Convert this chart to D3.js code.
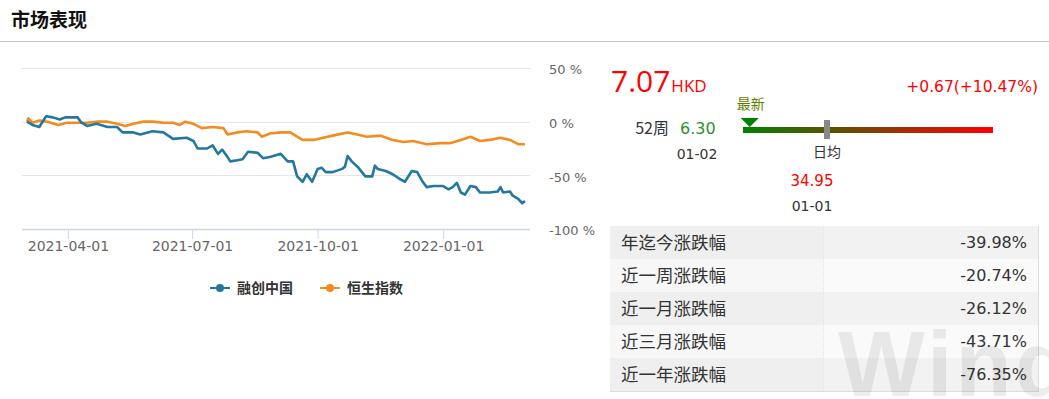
<!DOCTYPE html>
<html>
<head>
<meta charset="utf-8">
<script src="https://cdn.jsdelivr.net/npm/d3@7"></script>
<style>
  body { margin: 0; background: #fff; }
  svg { display: block; font-family: "Noto Sans CJK SC", "Noto Sans", sans-serif; }
</style>
</head>
<body>
<div id="root"></div>
<script>
const width = 1049;
const height = 399;

// 融创中国 (% change)
const sunacDates = ["2021-03-02","2021-03-06","2021-03-11","2021-03-16","2021-03-21","2021-03-26","2021-03-30","2021-04-08","2021-04-11","2021-04-15","2021-04-22","2021-04-30","2021-05-07","2021-05-11","2021-05-19","2021-05-24","2021-06-02","2021-06-10","2021-06-17","2021-06-27","2021-07-02","2021-07-05","2021-07-12","2021-07-16","2021-07-20","2021-07-23","2021-07-27","2021-07-29","2021-08-03","2021-08-07","2021-08-11","2021-08-18","2021-08-22","2021-08-27","2021-09-04","2021-09-09","2021-09-13","2021-09-16","2021-09-20","2021-09-23","2021-09-27","2021-10-01","2021-10-04","2021-10-07","2021-10-12","2021-10-19","2021-10-21","2021-10-23","2021-10-26","2021-10-31","2021-11-05","2021-11-10","2021-11-12","2021-11-14","2021-11-20","2021-11-25","2021-12-01","2021-12-04","2021-12-09","2021-12-13","2021-12-17","2021-12-20","2021-12-25","2022-01-01","2022-01-05","2022-01-08","2022-01-11","2022-01-14","2022-01-17","2022-01-21","2022-01-25","2022-01-28","2022-02-04","2022-02-10","2022-02-12","2022-02-14","2022-02-19","2022-02-21","2022-02-25","2022-02-28","2022-03-02"];
const sunacValues = [0,-3,-5,5,4,2,4,4,-1,-4,-2,-5,-5,-10,-10,-12,-9,-10,-16,-15,-18,-25,-25,-22,-30,-26,-33,-37,-36,-35,-28,-29,-34,-33,-30,-37,-37,-51,-56,-49,-56,-44,-43,-47,-47,-44,-42,-32,-37,-43,-51,-51,-41,-44,-46,-49,-54,-56,-46,-47,-56,-61,-60,-60,-63,-61,-57,-66,-68,-60,-61,-66,-66,-65,-61,-66,-65,-69,-72,-76,-74];

// 恒生指数 (% change)
const hsiDates = ["2021-03-02","2021-03-03","2021-03-06","2021-03-11","2021-03-17","2021-03-25","2021-03-31","2021-04-08","2021-04-15","2021-04-22","2021-04-30","2021-05-07","2021-05-13","2021-05-19","2021-05-26","2021-06-02","2021-06-10","2021-06-17","2021-06-22","2021-06-26","2021-07-02","2021-07-08","2021-07-16","2021-07-24","2021-07-27","2021-08-03","2021-08-10","2021-08-18","2021-08-21","2021-08-27","2021-09-04","2021-09-11","2021-09-16","2021-09-20","2021-09-28","2021-10-05","2021-10-12","2021-10-23","2021-10-30","2021-11-06","2021-11-16","2021-11-25","2021-12-03","2021-12-10","2021-12-20","2021-12-30","2022-01-06","2022-01-14","2022-01-21","2022-01-28","2022-02-04","2022-02-12","2022-02-19","2022-02-25","2022-03-02"];
const hsiValues = [0,3,-1,1,0,-3,-1,-1,-1,0,0,-2,-4,-2,0,0,-1,-1,-3,0,-2,-6,-5,-6,-12,-10,-9,-10,-14,-11,-10,-10,-14,-17,-17,-15,-13,-10,-12,-14,-13,-17,-19,-18,-21,-20,-20,-17,-14,-18,-17,-15,-17,-21,-21];

const seriesNames = ["融创中国", "恒生指数"];
const seriesColors = ["#23789f", "#f58a1f"];

const xTicks = ["2021-04-01", "2021-07-01", "2021-10-01", "2022-01-01"];
const yTicks = [50, 0, -50, -100];

// right panel
const price = "7.07";
const currency = "HKD";
const change = "+0.67(+10.47%)";
const low52 = "6.30", low52Date = "01-02";
const high52 = "34.95", high52Date = "01-01";
const statLabels = ["年迄今涨跌幅", "近一周涨跌幅", "近一月涨跌幅", "近三月涨跌幅", "近一年涨跌幅"];
const statValues = ["-39.98%", "-20.74%", "-26.12%", "-43.71%", "-76.35%"];

const parse = d3.timeParse("%Y-%m-%d");
const numFont = "'DejaVu Sans', sans-serif";

const svg = d3.select("#root").append("svg")
  .attr("width", width).attr("height", height);

// header
svg.append("text").attr("x", 11).attr("y", 27)
  .attr("font-size", 19).attr("font-weight", "bold").attr("fill", "#111")
  .text("市场表现");
svg.append("line").attr("x1", 0).attr("x2", width).attr("y1", 41.5).attr("y2", 41.5)
  .attr("stroke", "#c8c8c8");

// chart
const plotL = 22, plotR = 530;
const x = d3.scaleTime().domain([parse("2021-03-02"), parse("2022-03-02")]).range([27, 525]);
const y = d3.scaleLinear().domain([-100, 50]).range([229, 68]);

const chart = svg.append("g");

chart.selectAll(".grid").data(yTicks.filter(d => d !== -100)).enter()
  .append("line").attr("class", "grid")
  .attr("x1", plotL).attr("x2", plotR)
  .attr("y1", d => Math.round(y(d)) + 0.5).attr("y2", d => Math.round(y(d)) + 0.5)
  .attr("stroke", "#e6e6e6");

chart.append("line").attr("x1", plotL).attr("x2", plotR)
  .attr("y1", 229.5).attr("y2", 229.5).attr("stroke", "#ccd6eb").attr("stroke-width", 1.5);

const xAxis = chart.append("g").attr("transform", "translate(0,229)")
  .call(d3.axisBottom(x).tickValues(xTicks.map(parse)).tickFormat(d3.timeFormat("%Y-%m-%d")).tickSize(10));
xAxis.select(".domain").remove();
xAxis.selectAll("line").attr("stroke", "#ccd6eb");
xAxis.selectAll("text").attr("fill", "#666").attr("font-size", 14).attr("y", 12).attr("dy", "0.71em")
  .attr("font-family", numFont);

const yAxis = chart.append("g").attr("transform", "translate(540,0)")
  .call(d3.axisRight(y).tickValues(yTicks).tickFormat(d => d + " %").tickSize(0));
yAxis.select(".domain").remove();
yAxis.selectAll("text").attr("fill", "#666").attr("font-size", 13).attr("x", 9).attr("dy", "0.45em")
  .attr("font-family", numFont);

const line = d3.line().x(d => x(d[0])).y(d => y(d[1]));
const series = [
  d3.zip(hsiDates.map(parse), hsiValues),
  d3.zip(sunacDates.map(parse), sunacValues)
];
chart.selectAll(".series").data(series).enter()
  .append("path").attr("class", "series")
  .attr("d", line)
  .attr("fill", "none")
  .attr("stroke", (d, i) => seriesColors[1 - i])
  .attr("stroke-width", 2.6)
  .attr("stroke-linejoin", "round");

// legend
const legend = svg.append("g").attr("transform", "translate(210,288)");
const items = legend.selectAll(".item").data(seriesNames).enter()
  .append("g").attr("class", "item")
  .attr("transform", (d, i) => `translate(${i * 110},0)`);
items.append("line").attr("x1", 0).attr("x2", 20).attr("stroke", (d, i) => seriesColors[i]).attr("stroke-width", 2);
items.append("circle").attr("cx", 10).attr("r", 4).attr("fill", (d, i) => seriesColors[i]);
items.append("text").attr("x", 27).attr("dy", "0.36em")
  .attr("font-size", 14).attr("font-weight", "bold").attr("fill", "#333").text(d => d);

// price block
const panel = svg.append("g");
const priceText = panel.append("text").attr("x", 611).attr("y", 92).attr("fill", "#f00")
  .attr("font-family", "'Open Sans', 'Noto Sans', sans-serif");
priceText.append("tspan").attr("font-size", 30).text(price);
priceText.append("tspan").attr("font-size", 17).attr("dx", 1).text(currency);
panel.append("text").attr("x", 1038).attr("y", 92).attr("text-anchor", "end")
  .attr("font-size", 15.5).attr("fill", "#f00").attr("font-family", numFont)
  .text(change);

panel.append("text").attr("x", 669).attr("y", 134).attr("text-anchor", "end")
  .attr("font-size", 16).attr("fill", "#333").text("52周");
panel.append("text").attr("x", 680).attr("y", 134).attr("font-size", 16).attr("fill", "#2f8f2f")
  .attr("font-family", numFont).text(low52);
panel.append("text").attr("x", 697).attr("y", 159).attr("text-anchor", "middle")
  .attr("font-size", 14).attr("fill", "#333").attr("font-family", numFont).text(low52Date);

const grad = svg.append("defs").append("linearGradient").attr("id", "rangeGrad");
grad.append("stop").attr("offset", "0%").attr("stop-color", "#008000");
grad.append("stop").attr("offset", "100%").attr("stop-color", "#ff0000");

const bar = d3.scaleLinear().domain([+low52, +high52]).range([743, 993]);
panel.append("rect").attr("x", bar.range()[0]).attr("y", 127).attr("width", bar.range()[1] - bar.range()[0]).attr("height", 6)
  .attr("fill", "url(#rangeGrad)");
const latest = bar(+price);
panel.append("path").attr("d", `M${latest - 9},118 L${latest + 9},118 L${latest},127 Z`).attr("fill", "#008000");
panel.append("text").attr("x", latest + 1).attr("y", 109).attr("text-anchor", "middle")
  .attr("font-size", 14).attr("fill", "#5f7f00").text("最新");
const avgX = 827;
panel.append("rect").attr("x", avgX - 3).attr("y", 120).attr("width", 6).attr("height", 19).attr("fill", "#888");
panel.append("text").attr("x", avgX).attr("y", 157).attr("text-anchor", "middle")
  .attr("font-size", 14).attr("fill", "#333").text("日均");
panel.append("text").attr("x", 812).attr("y", 186).attr("text-anchor", "middle")
  .attr("font-size", 15).attr("fill", "#f00").attr("font-family", numFont).text(high52);
panel.append("text").attr("x", 812).attr("y", 211).attr("text-anchor", "middle")
  .attr("font-size", 14).attr("fill", "#333").attr("font-family", numFont).text(high52Date);

// stats table
const tx0 = 610, tx1 = 1038, tDiv = 823;
const row = d3.scaleBand().domain(statLabels).range([226, 391]);
const rows = svg.append("g").selectAll(".row").data(statLabels).enter()
  .append("g").attr("class", "row");
rows.append("rect").attr("x", tx0).attr("y", d => row(d)).attr("width", tDiv - tx0).attr("height", row.bandwidth())
  .attr("fill", (d, i) => i % 2 ? "#f7f7f7" : "#efefef");
rows.append("rect").attr("x", tDiv).attr("y", d => row(d)).attr("width", tx1 - tDiv).attr("height", row.bandwidth())
  .attr("fill", (d, i) => i % 2 ? "#fafafa" : "#f2f2f2");
svg.append("line").attr("x1", tDiv + 0.5).attr("x2", tDiv + 0.5).attr("y1", 226).attr("y2", 391)
  .attr("stroke", "#e2e2e2").attr("stroke-dasharray", "1,1");
svg.append("line").attr("x1", tx0).attr("x2", tx1 + 1).attr("y1", 391.5).attr("y2", 391.5).attr("stroke", "#dcdcdc");
svg.append("line").attr("x1", tx1 + 0.5).attr("x2", tx1 + 0.5).attr("y1", 226).attr("y2", 392).attr("stroke", "#dcdcdc");

// watermark
svg.append("text").attr("x", 838).attr("y", 396).attr("font-size", 92).attr("font-weight", "bold")
  .attr("font-family", "'Liberation Sans', Arial, sans-serif")
  .attr("fill", "#000").attr("fill-opacity", 0.07).attr("letter-spacing", 3).text("Wind");

rows.append("text").attr("x", 621).attr("y", d => row(d) + row.bandwidth() / 2).attr("dy", "0.36em")
  .attr("font-size", 17.5).attr("fill", "#333").text(d => d);
rows.append("text").attr("x", 1027).attr("y", d => row(d) + row.bandwidth() / 2).attr("dy", "0.36em")
  .attr("text-anchor", "end").attr("font-size", 16).attr("fill", "#333")
  .attr("font-family", numFont)
  .text((d, i) => statValues[i]);
</script>
</body>
</html>
